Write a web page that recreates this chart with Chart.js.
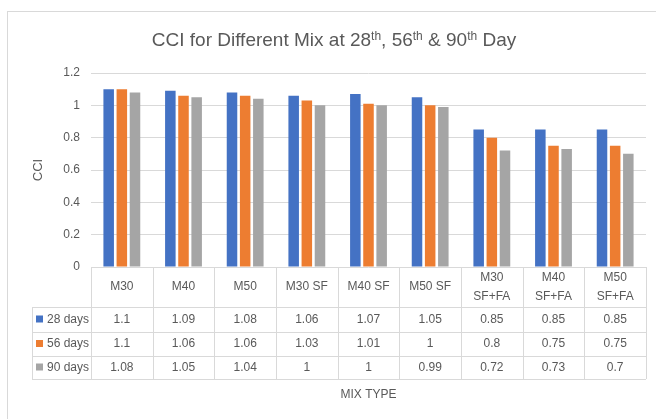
<!DOCTYPE html>
<html>
<head>
<meta charset="utf-8">
<script src="https://cdn.jsdelivr.net/npm/chart.js@4.4.1/dist/chart.umd.min.js"></script>
<style>
  html, body { margin: 0; padding: 0; background: #fff; }
  #wrap { width: 656px; height: 419px; }
</style>
</head>
<body>
<div id="wrap"><canvas id="cci" width="656" height="419"></canvas></div>
<script>
// --- Data ---
const mixTypes = [['M30'], ['M40'], ['M50'], ['M30 SF'], ['M40 SF'], ['M50 SF'], ['M30', 'SF+FA'], ['M40', 'SF+FA'], ['M50', 'SF+FA']];
const days28 = [1.1, 1.09, 1.08, 1.06, 1.07, 1.05, 0.85, 0.85, 0.85];
const days56 = [1.1, 1.06, 1.06, 1.03, 1.01, 1, 0.8, 0.75, 0.75];
const days90 = [1.08, 1.05, 1.04, 1, 1, 0.99, 0.72, 0.73, 0.7];
const seriesNames = ['28 days', '56 days', '90 days'];
const yTicks = [0, 0.2, 0.4, 0.6, 0.8, 1, 1.2];

const FONT = "'Liberation Sans Narrow', 'Arial Narrow', 'Liberation Sans', sans-serif";
const TEXT = '#595959';
const LINE = '#d9d9d9';
const colors = ['#4472C4', '#ED7D31', '#A5A5A5'];

// --- Plugin: frame, title with superscripts, axis title, data table ---
const decorations = {
    id: 'decorations',
    beforeDraw(chart) {
        const ctx = chart.ctx;
        ctx.save();
        ctx.strokeStyle = LINE;
        ctx.lineWidth = 1;
        ctx.strokeRect(7.5, 11.5, 800, 600);
        ctx.restore();
    },
    afterDraw(chart) {
        const ctx = chart.ctx;
        const area = chart.chartArea;
        const x = chart.scales.x;
        ctx.save();

        // Title with superscripts
        const parts = [
            ['CCI for Different Mix at 28', false], ['th', true], [', 56', false], ['th', true],
            [' & 90', false], ['th', true], [' Day', false]
        ];
        const big = '19px ' + FONT, small = '12px ' + FONT;
        let total = 0;
        parts.forEach(([t, sup]) => { ctx.font = sup ? small : big; total += ctx.measureText(t).width; });
        let tx = 334 - total / 2;
        ctx.fillStyle = TEXT;
        ctx.textBaseline = 'alphabetic';
        ctx.textAlign = 'left';
        parts.forEach(([t, sup]) => {
            ctx.font = sup ? small : big;
            ctx.fillText(t, tx, sup ? 40 : 46);
            tx += ctx.measureText(t).width;
        });

        // Y axis title
        ctx.save();
        ctx.translate(38, (area.top + area.bottom) / 2);
        ctx.rotate(-Math.PI / 2);
        ctx.font = '13px ' + FONT;
        ctx.textAlign = 'center';
        ctx.textBaseline = 'middle';
        ctx.fillText('CCI', 0, 0);
        ctx.restore();

        // Data table
        const colW = (x.right - x.left) / mixTypes.length;
        const top = area.bottom;
        const rows = [top, top + 40, top + 65, top + 89, top + 112];
        const legendLeft = 32;
        ctx.strokeStyle = LINE;
        ctx.lineWidth = 1;
        ctx.beginPath();
        for (let i = 0; i <= mixTypes.length; i++) {
            const px = Math.round(x.left + i * colW) + 0.5;
            ctx.moveTo(px, rows[0]);
            ctx.lineTo(px, rows[4]);
        }
        ctx.moveTo(legendLeft + 0.5, rows[1]);
        ctx.lineTo(legendLeft + 0.5, rows[4]);
        for (let r = 1; r < rows.length; r++) {
            ctx.moveTo(legendLeft, Math.round(rows[r]) + 0.5);
            ctx.lineTo(x.right, Math.round(rows[r]) + 0.5);
        }
        ctx.stroke();

        ctx.fillStyle = TEXT;
        ctx.textAlign = 'center';
        ctx.textBaseline = 'middle';
        ctx.font = '12px ' + FONT;
        mixTypes.forEach((lbl, i) => {
            const cx = x.getPixelForValue(i);
            if (lbl.length === 1) {
                ctx.fillText(lbl[0], cx, (rows[0] + rows[1]) / 2);
            } else {
                ctx.fillText(lbl[0], cx, rows[0] + 11);
                ctx.fillText(lbl[1], cx, rows[0] + 30);
            }
        });

        const allSeries = [days28, days56, days90];
        allSeries.forEach((vals, s) => {
            const cy = (rows[s + 1] + rows[s + 2]) / 2;
            vals.forEach((v, i) => {
                ctx.fillText(String(v), x.getPixelForValue(i), cy);
            });
            ctx.fillStyle = colors[s];
            ctx.fillRect(36, cy - 4, 7, 7);
            ctx.fillStyle = TEXT;
            ctx.textAlign = 'left';
            ctx.fillText(seriesNames[s], 47, cy);
            ctx.textAlign = 'center';
        });

        // X axis title
        ctx.font = '12px ' + FONT;
        ctx.fillText('MIX TYPE', (x.left + x.right) / 2, 395);

        ctx.restore();
    }
};

new Chart(document.getElementById('cci'), {
    type: 'bar',
    data: {
        labels: mixTypes,
        datasets: [
            { label: seriesNames[0], data: days28, backgroundColor: colors[0] },
            { label: seriesNames[1], data: days56, backgroundColor: colors[1] },
            { label: seriesNames[2], data: days90, backgroundColor: colors[2] }
        ]
    },
    options: {
        responsive: false,
        animation: false,
        devicePixelRatio: 1,
        layout: { padding: { top: 73, right: 10, bottom: 152, left: 0 } },
        datasets: { bar: { categoryPercentage: 0.64, barPercentage: 0.8 } },
        plugins: {
            legend: { display: false },
            title: { display: false },
            tooltip: { enabled: false }
        },
        scales: {
            x: { display: false },
            y: {
                min: 0,
                max: 1.2,
                afterFit(scale) { scale.width = 91; },
                afterBuildTicks(scale) { scale.ticks = yTicks.map(v => ({ value: v })); },
                border: { display: false },
                grid: { color: LINE, drawTicks: false },
                ticks: {
                    color: TEXT,
                    padding: 11,
                    font: { family: FONT, size: 12 },
                    callback: v => String(v)
                }
            }
        }
    },
    plugins: [decorations]
});
</script>
</body>
</html>
